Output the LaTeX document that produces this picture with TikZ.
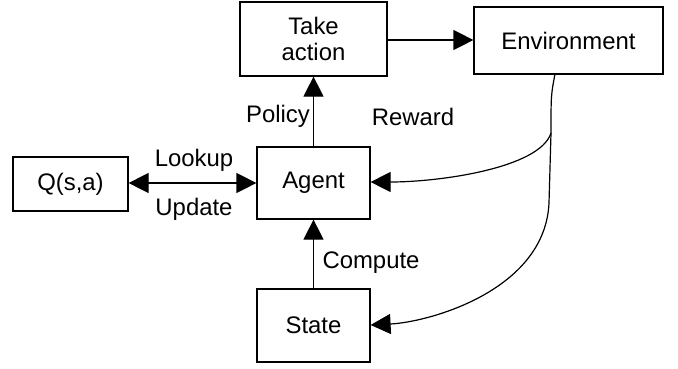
\documentclass[tikz,border=0pt]{standalone}
\usepackage{fontspec}
\setmainfont{Liberation Sans}
\usetikzlibrary{arrows.meta}
\begin{document}
\begin{tikzpicture}[x=1pt,y=-1pt,
  box/.style={draw,line width=1.2pt,inner sep=0pt,align=center,font=\fontsize{23.9}{26.5}\selectfont},
  lbl/.style={inner sep=0pt,font=\fontsize{23.9}{26.5}\selectfont},
  conn/.style={line width=1.2pt,-{Triangle[length=20pt,width=20pt]}},
  biconn/.style={line width=1.2pt,{Triangle[length=20pt,width=20pt]}-{Triangle[length=20pt,width=20pt]}}]
\useasboundingbox (0,0) rectangle (678,368);
\node[box,minimum width=147pt,minimum height=74pt] (take) at (313.5,39) {Take\\action};
\node[box,minimum width=189pt,minimum height=67pt] (env) at (568.5,40.5) {Environment};
\node[box,minimum width=113pt,minimum height=72pt] (agent) at (313.5,183) {Agent};
\node[box,minimum width=115pt,minimum height=54pt] (q) at (70.5,184) {Q(s,a)};
\node[box,minimum width=113pt,minimum height=73pt] (state) at (313.5,325.5) {State};
\node[lbl] (policy) at (278,116) {Policy};
\node[lbl] (reward) at (413,117) {Reward};
\node[lbl] (lookup) at (194,160) {Lookup};
\node[lbl] (update) at (194,209) {Update};
\node[lbl] (compute) at (371,263) {Compute};
\coordinate (e0) at (555,74);
\coordinate (e1) at (551,133);
\coordinate (e2) at (549,203);
\draw[conn] (take.east |- 0,40) -- (env.west |- 0,40);
\draw[conn] (agent.north) -- (take.south);
\draw[conn] (state.north) -- (agent.south);
\draw[biconn] (q.east |- 0,183) -- (agent.west |- 0,183);
\draw[conn] (e0) .. controls (551,95) .. (e1) .. controls (540,168) and (440,182) .. (agent.east |- 0,182);
\draw[line width=1.2pt] (e1) -- (e2);
\draw[conn] (e2) .. controls (545,290) and (430,322) .. (state.east |- 0,325);
\end{tikzpicture}
\end{document}
